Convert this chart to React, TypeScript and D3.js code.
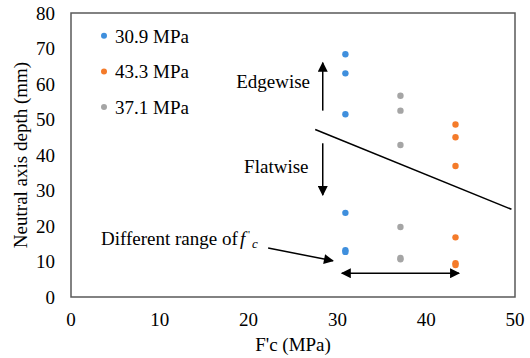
import React from "react";
import * as d3 from "d3";

const W = 530;
const H = 358;

const xTicks = [0, 10, 20, 30, 40, 50];
const yTicks = [0, 10, 20, 30, 40, 50, 60, 70, 80];

const seriesNames = ["30.9 MPa", "43.3 MPa", "37.1 MPa"];
const seriesColors = ["#3F8FDD", "#F47B2A", "#A5A5A5"];
const seriesX = [30.9, 43.3, 37.1];
const blueY = [68.4, 63.0, 51.5, 23.7, 13.2, 12.7];
const orangeY = [48.6, 45.0, 36.9, 16.8, 9.5, 9.0];
const grayY = [56.7, 52.5, 42.8, 19.7, 11.0, 10.6];
const seriesY = [blueY, orangeY, grayY];

const boundary = [
  [27.5, 47.2],
  [49.6, 24.7],
];

const FONT = "Liberation Serif";

function T(props: any) {
  // text drawn at 20px and scaled to the wanted size
  const { x, y, size = 19, anchor = "start", italic = false, rotate = 0, children } = props;
  const k = size / 20;
  return (
    <g transform={`translate(${x},${y}) rotate(${rotate}) scale(${k})`}>
      <text x={0} y={0} fontFamily={FONT} fontSize={20} textAnchor={anchor} fontStyle={italic ? "italic" : "normal"}>
        {children}
      </text>
    </g>
  );
}

export default function App() {
  const x = d3.scaleLinear().domain([0, 50]).range([71, 515]);
  const y = d3.scaleLinear().domain([0, 80]).range([297, 13]);
  const line = d3.line<number[]>().x((d) => x(d[0])).y((d) => y(d[1]));
  const arrowX = x(28.35);

  return (
    <svg width={W} height={H} style={{ position: "absolute", left: 0, top: 0 }}>
      <defs>
        <marker
          id="ah"
          viewBox="0 0 10 10"
          refX="9"
          refY="5"
          markerWidth="12"
          markerHeight="10"
          markerUnits="userSpaceOnUse"
          orient="auto-start-reverse"
        >
          <path d="M0,0 L10,5 L0,10 Z" fill="#000" />
        </marker>
      </defs>
      <rect
        x={x(0)}
        y={y(80)}
        width={x(50) - x(0)}
        height={y(0) - y(80)}
        fill="none"
        stroke="#595959"
        strokeWidth={1.5}
      />
      {yTicks.map((t) => (
        <T key={"y" + t} x={55} y={y(t) + 6.5} anchor="end">
          {t}
        </T>
      ))}
      {xTicks.map((t) => (
        <T key={"x" + t} x={x(t)} y={326} anchor="middle">
          {t}
        </T>
      ))}
      <T x={x(25)} y={351} anchor="middle">
        F'c (MPa)
      </T>
      <T x={27} y={(y(0) + y(80)) / 2} anchor="middle" rotate={-90}>
        Neutral axis depth (mm)
      </T>
      {seriesNames.map((n, i) => (
        <T key={n} x={115} y={42.7 + i * 35.7}>
          {n}
        </T>
      ))}
      <T x={310} y={88} anchor="end">
        Edgewise
      </T>
      <T x={308.5} y={173} anchor="end">
        Flatwise
      </T>
      <T x={101} y={245}>
        Different range of
      </T>
      <T x={240} y={245} italic>
        f
      </T>
      <T x={248} y={238} size={11}>
        '
      </T>
      <T x={252} y={248} size={13} italic>
        c
      </T>
      <path d={line(boundary) || ""} fill="none" stroke="#000" strokeWidth={1.5} />
      {seriesY.map((ys, i) =>
        ys.map((v, j) => (
          <circle key={i + "-" + j} cx={x(seriesX[i])} cy={y(v)} r={3.2} fill={seriesColors[i]} />
        ))
      )}
      {seriesNames.map((n, i) => (
        <circle key={n} cx={104} cy={35.7 + i * 35.7} r={3} fill={seriesColors[i]} />
      ))}
      <line x1={arrowX} y1={y(52.5)} x2={arrowX} y2={y(66)} stroke="#000" strokeWidth={1.5} markerEnd="url(#ah)" />
      <line x1={arrowX} y1={y(43.3)} x2={arrowX} y2={y(28.7)} stroke="#000" strokeWidth={1.5} markerEnd="url(#ah)" />
      <line
        x1={x(30.5)}
        y1={y(6.7)}
        x2={x(43.7)}
        y2={y(6.7)}
        stroke="#000"
        strokeWidth={1.5}
        markerStart="url(#ah)"
        markerEnd="url(#ah)"
      />
      <line x1={x(22.2)} y1={y(13.8)} x2={x(29.5)} y2={y(10.2)} stroke="#000" strokeWidth={1.5} markerEnd="url(#ah)" />
    </svg>
  );
}
